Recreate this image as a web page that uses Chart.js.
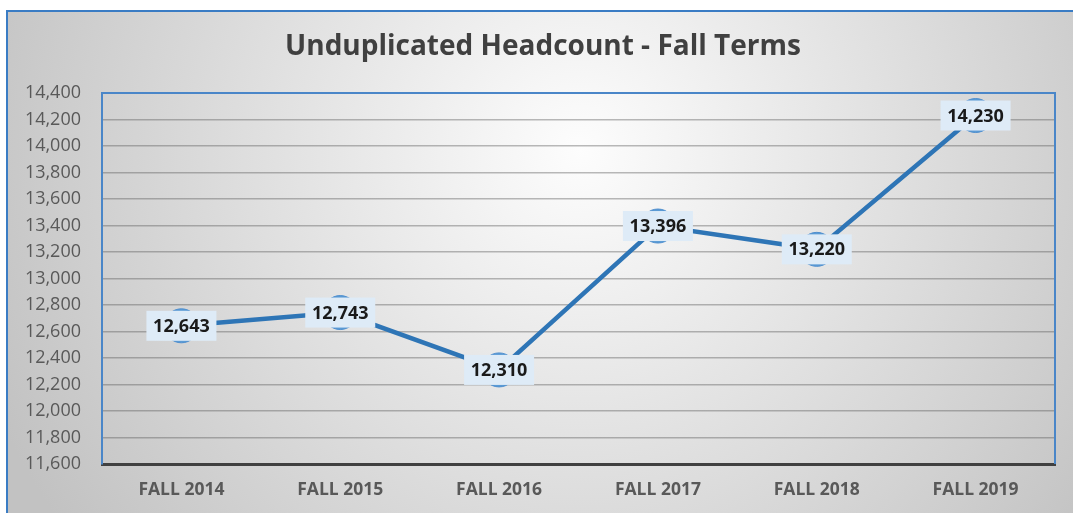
<!DOCTYPE html>
<html>
<head>
<meta charset="utf-8">
<script src="https://cdn.jsdelivr.net/npm/chart.js@4/dist/chart.umd.min.js"></script>
<style>
  body { margin: 0; background: #fff; }
  #wrap { position: relative; width: 1073px; height: 513px; }
</style>
</head>
<body>
<div id="wrap"><canvas id="headcount-chart"></canvas></div>
<script>
var chartTitle = "Unduplicated Headcount - Fall Terms";
var terms = ["FALL 2014", "FALL 2015", "FALL 2016", "FALL 2017", "FALL 2018", "FALL 2019"];
var headcount = [12643, 12743, 12310, 13396, 13220, 14230];
var yMin = 11600;
var yMax = 14400;
var yStep = 200;

var FONT = "'Open Sans', 'Liberation Sans', sans-serif";

// gray gradient panel with the blue frame edge, plus the title
var panelBackground = {
    id: "panelBackground",
    beforeDraw: function(chart) {
        var ctx = chart.ctx, w = chart.width, h = chart.height;
        ctx.save();
        ctx.fillStyle = "#ffffff";
        ctx.fillRect(0, 0, w, h);
        var g = ctx.createRadialGradient(580, 150, 0, 580, 150, 640);
        g.addColorStop(0, "#fdfdfd");
        g.addColorStop(1, "#c2c2c2");
        ctx.fillStyle = g;
        ctx.fillRect(7, 11, w - 7, h - 11);
        ctx.strokeStyle = "#3a7cc4";
        ctx.lineWidth = 2;
        ctx.beginPath();
        ctx.moveTo(7, h);
        ctx.lineTo(7, 11);
        ctx.lineTo(w, 11);
        ctx.stroke();

        ctx.font = "bold 28px " + FONT;
        ctx.fillStyle = "#404040";
        ctx.textAlign = "center";
        ctx.textBaseline = "middle";
        ctx.fillText(chartTitle, 543, 47);
        ctx.restore();
    }
};

// top and right edge of the plot area
var plotFrame = {
    id: "plotFrame",
    beforeDatasetsDraw: function(chart) {
        var a = chart.chartArea, ctx = chart.ctx;
        ctx.save();
        ctx.strokeStyle = "#4a86c8";
        ctx.lineWidth = 2;
        ctx.beginPath();
        ctx.moveTo(a.left, a.top);
        ctx.lineTo(a.right, a.top);
        ctx.lineTo(a.right, a.bottom);
        ctx.stroke();
        ctx.restore();
    }
};

// value boxes on every point
var valueBoxes = {
    id: "valueBoxes",
    afterDatasetsDraw: function(chart) {
        var ctx = chart.ctx;
        var meta = chart.getDatasetMeta(0);
        ctx.save();
        ctx.font = "bold 18px " + FONT;
        ctx.textAlign = "center";
        ctx.textBaseline = "middle";
        meta.data.forEach(function(pt, i) {
            var txt = headcount[i].toLocaleString("en-US");
            ctx.fillStyle = "#deebf7";
            ctx.fillRect(pt.x - 35, pt.y - 15, 70, 30);
            ctx.fillStyle = "#1a1a1a";
            ctx.fillText(txt, pt.x, pt.y + 1);
        });
        ctx.restore();
    }
};

new Chart(document.getElementById("headcount-chart"), {
    type: "line",
    data: {
        labels: terms,
        datasets: [{
            data: headcount,
            borderColor: "#2e75b6",
            borderWidth: 4.5,
            tension: 0,
            clip: false,
            pointRadius: 17,
            pointHoverRadius: 17,
            pointBackgroundColor: "#5b9bd5",
            pointBorderColor: "#4f8fcf",
            pointBorderWidth: 1
        }]
    },
    options: {
        responsive: true,
        maintainAspectRatio: false,
        animation: false,
        layout: { padding: { left: 0, right: 18, top: 93, bottom: 12 } },
        plugins: {
            legend: { display: false },
            tooltip: { enabled: false },
            title: { display: false }
        },
        scales: {
            x: {
                offset: true,
                afterFit: function(scale) { scale.height = 37; },
                grid: { display: false, drawTicks: false },
                border: { display: true, color: "#404040", width: 3 },
                ticks: {
                    color: "#595959",
                    font: { family: FONT, size: 17.5, weight: "bold" },
                    padding: 16,
                    maxRotation: 0
                }
            },
            y: {
                min: yMin,
                max: yMax,
                afterFit: function(scale) { scale.width = 102; },
                grid: { color: "rgba(90,90,90,0.42)", lineWidth: 1.5, drawTicks: false },
                border: { display: true, color: "#4a86c8", width: 2 },
                ticks: {
                    stepSize: yStep,
                    color: "#595959",
                    font: { family: FONT, size: 18 },
                    padding: 21,
                    callback: function(v) { return v.toLocaleString("en-US"); }
                }
            }
        }
    },
    plugins: [panelBackground, plotFrame, valueBoxes]
});
</script>
</body>
</html>
